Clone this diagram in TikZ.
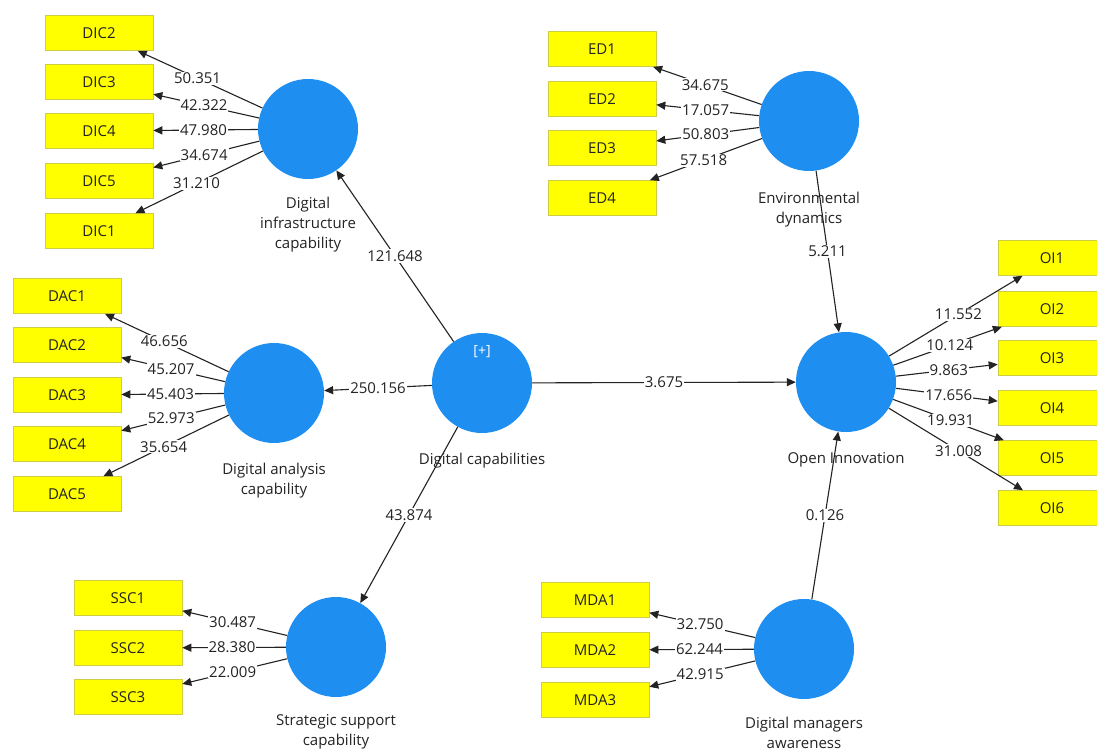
\documentclass[tikz,border=0pt]{standalone}
\usepackage{fontspec}
\setmainfont{Open Sans}
\usetikzlibrary{arrows.meta}
\definecolor{lvblue}{RGB}{30,142,240}
\definecolor{indyellow}{RGB}{255,255,0}
\definecolor{indedge}{RGB}{205,205,70}
\definecolor{ink}{RGB}{35,35,35}
\begin{document}
\begin{tikzpicture}[x=1pt,y=-1pt,
  latent/.style={circle,fill=lvblue,minimum size=100pt,inner sep=0pt},
  indicator/.style={rectangle,fill=indyellow,draw=indedge,line width=0.6pt,
    minimum width=108pt,minimum height=35pt,inner sep=0pt,
    font=\fontsize{15}{17}\selectfont,text=ink},
  lvname/.style={align=center,font=\fontsize{15}{20}\selectfont,text=ink},
  link/.style={draw=ink,line width=1.1pt,-{Triangle[length=9pt,width=8pt]}},
  coef/.style={fill=white,inner sep=1pt,pos=0.52,
    font=\fontsize{15}{15}\selectfont,text=ink}
]
\clip (0,0) rectangle (1097,754);
\fill[white] (0,0) rectangle (1097,754);

% latent variables
\node[latent] (DIC) at (308,129) {};
\node[latent] (DAC) at (274,393) {};
\node[latent] (DC)  at (482,383) {};
\node[latent] (SSC) at (336,647) {};
\node[latent] (ED)  at (809,121) {};
\node[latent] (OI)  at (846,382) {};
\node[latent] (MDA) at (804,649) {};
\node[text=white,font=\fontsize{14}{14}\selectfont] (plus) at (482,352) {[+]};

% latent variable names
\node[lvname] (DICname) at (308,225) {Digital\\infrastructure\\capability};
\node[lvname] (DACname) at (274,481) {Digital analysis\\capability};
\node[lvname] (DCname)  at (482,461) {Digital capabilities};
\node[lvname] (SSCname) at (336,732) {Strategic support\\capability};
\node[lvname] (EDname)  at (809,210) {Environmental\\dynamics};
\node[lvname] (OIname)  at (846,460) {Open Innovation};
\node[lvname] (MDAname) at (804,733) {Digital managers\\awareness};

% indicators
\node[indicator] (DIC2) at (99,33)  {DIC2};
\node[indicator] (DIC3) at (99,82)  {DIC3};
\node[indicator] (DIC4) at (99,131) {DIC4};
\node[indicator] (DIC5) at (99,181) {DIC5};
\node[indicator] (DIC1) at (99,231) {DIC1};

\node[indicator] (DAC1) at (67,296) {DAC1};
\node[indicator] (DAC2) at (67,345) {DAC2};
\node[indicator] (DAC3) at (67,395) {DAC3};
\node[indicator] (DAC4) at (67,444) {DAC4};
\node[indicator] (DAC5) at (67,494) {DAC5};

\node[indicator] (ED1) at (602,49)  {ED1};
\node[indicator] (ED2) at (602,99)  {ED2};
\node[indicator] (ED3) at (602,148) {ED3};
\node[indicator] (ED4) at (602,198) {ED4};

\node[indicator] (OI1) at (1052,258) {OI1};
\node[indicator] (OI2) at (1052,309) {OI2};
\node[indicator] (OI3) at (1052,358) {OI3};
\node[indicator] (OI4) at (1052,408) {OI4};
\node[indicator] (OI5) at (1052,458) {OI5};
\node[indicator] (OI6) at (1052,508) {OI6};

\node[indicator] (SSC1) at (128,598) {SSC1};
\node[indicator] (SSC2) at (128,648) {SSC2};
\node[indicator] (SSC3) at (128,697) {SSC3};

\node[indicator] (MDA1) at (595,600) {MDA1};
\node[indicator] (MDA2) at (595,650) {MDA2};
\node[indicator] (MDA3) at (595,700) {MDA3};

% outer loadings
\draw[link] (DIC) -- node[coef]{50.351} (DIC2);
\draw[link] (DIC) -- node[coef]{42.322} (DIC3);
\draw[link] (DIC) -- node[coef]{47.980} (DIC4);
\draw[link] (DIC) -- node[coef]{34.674} (DIC5);
\draw[link] (DIC) -- node[coef]{31.210} (DIC1);

\draw[link] (DAC) -- node[coef]{46.656} (DAC1);
\draw[link] (DAC) -- node[coef]{45.207} (DAC2);
\draw[link] (DAC) -- node[coef]{45.403} (DAC3);
\draw[link] (DAC) -- node[coef]{52.973} (DAC4);
\draw[link] (DAC) -- node[coef]{35.654} (DAC5);

\draw[link] (ED) -- node[coef]{34.675} (ED1);
\draw[link] (ED) -- node[coef]{17.057} (ED2);
\draw[link] (ED) -- node[coef]{50.803} (ED3);
\draw[link] (ED) -- node[coef]{57.518} (ED4);

\draw[link] (OI) -- node[coef]{11.552} (OI1);
\draw[link] (OI) -- node[coef]{10.124} (OI2);
\draw[link] (OI) -- node[coef]{9.863} (OI3);
\draw[link] (OI) -- node[coef]{17.656} (OI4);
\draw[link] (OI) -- node[coef]{19.931} (OI5);
\draw[link] (OI) -- node[coef]{31.008} (OI6);

\draw[link] (SSC) -- node[coef]{30.487} (SSC1);
\draw[link] (SSC) -- node[coef]{28.380} (SSC2);
\draw[link] (SSC) -- node[coef]{22.009} (SSC3);

\draw[link] (MDA) -- node[coef]{32.750} (MDA1);
\draw[link] (MDA) -- node[coef]{62.244} (MDA2);
\draw[link] (MDA) -- node[coef]{42.915} (MDA3);

% structural paths
\draw[link] (DC) -- node[coef,pos=0.5]{121.648} (DIC);
\draw[link] (DC) -- node[coef,pos=0.5]{250.156} (DAC);
\draw[link] (DC) -- node[coef,pos=0.5]{3.675} (OI);
\draw[link] (DC) -- node[coef,pos=0.5]{43.874} (SSC);
\draw[link] (ED) -- node[coef,pos=0.5]{5.211} (OI);
\draw[link] (MDA) -- node[coef,pos=0.5]{0.126} (OI);
\end{tikzpicture}
\end{document}
